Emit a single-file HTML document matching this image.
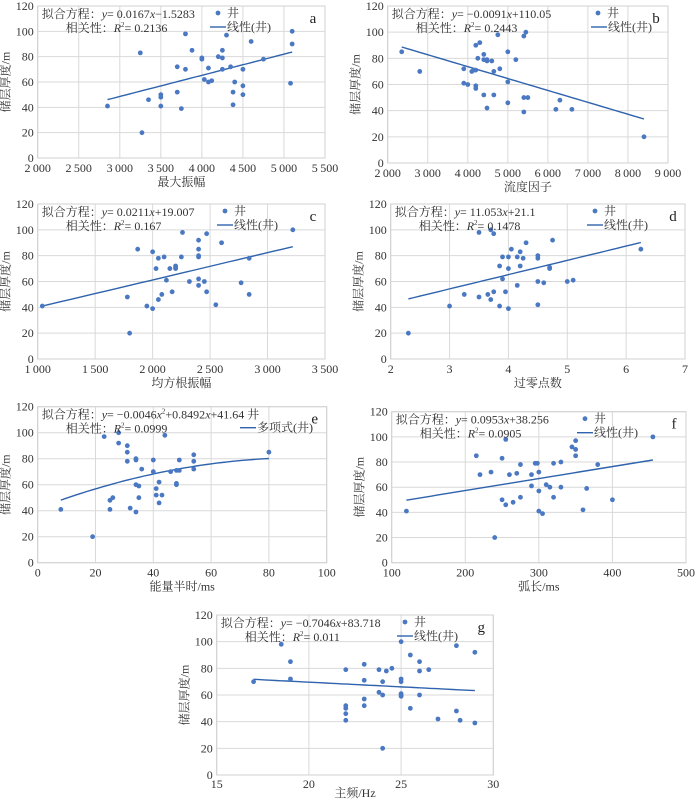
<!DOCTYPE html>
<html><head><meta charset="utf-8">
<style>
body{margin:0;background:#fff;}
svg{display:block;}
text{font-family:"Liberation Serif","Noto Serif CJK SC",serif;}
</style></head>
<body>
<svg id="fig" width="700" height="799" viewBox="0 0 700 799" font-family="Liberation Serif, Noto Serif CJK SC, serif"></svg>
<script>
// Panel a
const aX=[2850,3250,3270,3350,3500,3500,3500,3700,3700,3750,3800,3800,3880,4000,4000,4030,4080,4080,4120,4200,4250,4250,4250,4300,4350,4380,4380,4400,4500,4500,4500,4600,4750,5080,5100,5100];
const aY=[41,83,20,46,50,48,41,72,52,39,98,70,85,79,78,62,60,71,61,80,85,79,70,97,72,52,42,60,70,57,50,92,78,59,100,90];
const aTicks=[2000,2500,3000,3500,4000,4500,5000,5500];
// Panel b
const bX=[2350,2800,3900,3900,4000,4100,4150,4200,4200,4200,4200,4250,4300,4400,4400,4400,4480,4480,4480,4600,4650,4650,4750,4800,5000,5000,5000,5200,5400,5400,5400,5450,5500,6200,6300,6600,8400];
const bY=[85,70,72,61,60,70,71,71,90,59,57,80,92,83,79,52,79,78,42,78,70,52,98,72,85,62,46,79,97,50,39,100,50,41,48,41,20];
const bTicks=[2000,3000,4000,5000,6000,7000,8000,9000];
// Panel c
const cX=[1040,1780,1800,1870,1950,2000,2000,2030,2050,2050,2080,2100,2120,2150,2170,2200,2200,2200,2250,2260,2320,2400,2400,2400,2400,2400,2400,2450,2470,2470,2550,2600,2770,2840,2840,3220];
const cY=[41,48,20,85,41,83,39,70,78,46,50,79,61,70,52,72,71,70,79,98,60,92,85,80,79,62,57,60,97,52,42,90,59,78,50,100];
const cTicks=[1000,1500,2000,2500,3000,3500];
// Panel d
const dX=[2.3,3,3.25,3.5,3.5,3.65,3.7,3.7,3.75,3.75,3.85,3.85,3.9,3.9,3.95,4,4,4,4.05,4.15,4.15,4.2,4.2,4.25,4.3,4.5,4.5,4.5,4.5,4.6,4.7,4.7,4.75,5,5.1,6.25];
const dY=[20,41,50,98,48,50,100,46,97,52,72,41,79,62,52,79,70,39,85,79,57,83,72,78,90,80,78,60,42,59,71,70,92,60,61,85];
const dTicks=[2,3,4,5,6,7];
// Panel e
const eX=[8,19,23,25,25,26,28,28,31,31,31,32,34,34,34,34,35,35,36,40,40,41,41,42,42,43,44,46,48,48,48,49,49,54,54,54,80];
const eY=[41,20,97,48,41,50,100,92,90,85,78,42,80,79,60,39,59,50,72,79,70,57,52,62,46,52,98,70,71,61,60,79,71,83,78,72,85];
const eTicks=[0,20,40,60,80,100];
// Panel f
const fX=[120,215,220,235,240,250,250,255,255,260,265,270,275,275,290,290,295,298,300,300,300,305,310,315,320,320,330,330,345,350,350,350,360,365,380,400,455];
const fY=[41,85,70,72,20,83,50,98,46,70,48,71,78,52,70,61,79,79,72,57,41,39,62,60,79,52,80,60,92,97,90,85,42,59,78,50,100];
const fTicks=[100,200,300,400,500];
// Panel g
const gX=[17,18.5,19,19,22,22,22,22,22,23,23,23,23,23.8,23.8,24,24,24,24.2,24.5,25,25,25,25,25,25,25.5,25.5,26,26,26,26.5,27,28,28,28.2,29,29];
const gY=[70,98,85,72,79,52,50,46,41,83,71,57,52,79,62,70,60,20,78,80,100,72,70,61,60,59,90,50,85,78,60,79,42,97,48,41,92,39];
const gTicks=[15,20,25,30];
const yTicks=[0,20,40,60,80,100,120];

const NS="http://www.w3.org/2000/svg";
const svg=document.getElementById('fig');
const FF='Liberation Serif, Noto Serif CJK SC, serif';
function mk(tag,attrs,parent,text){const e=document.createElementNS(NS,tag);for(const k in attrs)e.setAttribute(k,attrs[k]);if(tag==='text')e.setAttribute('font-family',FF);if(text!==undefined)e.textContent=text;(parent||svg).appendChild(e);return e;}
function fmt(v){if(v>=1000){const s=String(v);return s.slice(0,s.length-3)+'\u2009'+s.slice(-3);}return String(v);}

function panel(p){
  const g=mk('g',{});
  
  
  const xmin=p.xt[0],xmax=p.xt[p.xt.length-1];
  const sx=v=>p.x0+(v-xmin)/(xmax-xmin)*(p.x1-p.x0);
  const sy=v=>p.yb-(v/120)*(p.yb-p.yt);
  const tl=p.tl||14, tt=p.tt||28;
  yTicks.forEach(t=>{
    const l=mk('line',{x1:p.x0,x2:p.x1,y1:sy(t),y2:sy(t),stroke:'#d9d9d9','stroke-width':1},g);
    
    
    const tx=mk('text',{x:p.x0-4,y:sy(t)+4,'text-anchor':'end','font-size':12,fill:'#333'},g,String(t));
    
    
  });
  p.xt.forEach(t=>{
    const l=mk('line',{x1:sx(t),x2:sx(t),y1:p.yt,y2:p.yb,stroke:'#d9d9d9','stroke-width':1},g);
    
    
    const tx=mk('text',{x:sx(t),y:p.yb+tl,'text-anchor':'middle','font-size':12,fill:'#333'},g,fmt(t));
    
    
  });
  const xt=mk('text',{x:(p.x0+p.x1)/2,y:p.yb+tt,'text-anchor':'middle','font-size':12,fill:'#333'},g,p.xl);
  
  
  const ym=(p.yt+p.yb)/2, yx=p.x0-28;
  const yt=mk('text',{x:yx,y:ym,'text-anchor':'middle','font-size':12,fill:'#333',transform:`rotate(-90 ${yx} ${ym})`},g,'储层厚度/m');
  
  
  const xs=p.X, lo=Math.min(...xs), hi=Math.max(...xs);
  let d='';
  for(let i=0;i<=40;i++){const v=lo+(hi-lo)*i/40;d+=(i?'L':'M')+sx(v).toFixed(1)+','+sy(p.f(v)).toFixed(1);}
  const pl=mk('path',{d:d,fill:'none',stroke:'#2f63ad','stroke-width':1.4},g);
  
  
  p.X.forEach((v,i)=>{
    const c=mk('circle',{cx:sx(v),cy:sy(p.Y[i]),r:2.4,fill:'#4a78c2'},g);
    
    
  });
  const eq=mk('text',{x:p.x0+4,y:p.yt+12,'font-size':12,fill:'#333'},g);
  
  
  eq.innerHTML=p.eq;
  const r2=mk('text',{x:p.x0+28,y:p.yt+26,'font-size':12,fill:'#333'},g);
  
  
  r2.innerHTML='相关性：<tspan font-style="italic">R</tspan><tspan font-size="7" dy="-5">2</tspan><tspan dy="5">= '+p.r2+'</tspan>';
  if(p.lx){
    const ld=mk('circle',{cx:p.lx,cy:p.yt+7,r:2.4,fill:'#4a78c2'},g);
    
    
    const lt=mk('text',{x:p.lx+9,y:p.yt+11,'font-size':12,fill:'#333'},g,'井');
    
    
  }
  const lxl=p.llx;
  const ll=mk('line',{x1:lxl,x2:lxl+16,y1:p.yt+21,y2:p.yt+21,stroke:'#2f63ad','stroke-width':1.4},g);
  
  
  const lt2=mk('text',{x:lxl+17,y:p.yt+25,'font-size':12,fill:'#333'},g,p.lname);
  
  
  const lab=mk('text',{x:p.x1-12,y:p.yt+17,'font-size':15,fill:'#222','text-anchor':'middle'},g,p.id);
  
  
  const fr=mk('rect',{x:p.x0,y:p.yt,width:p.x1-p.x0,height:p.yb-p.yt,fill:'none',stroke:'#d0d0d0'},g);
  
  
}
const I=s=>'<tspan font-style="italic">'+s+'</tspan>';
panel({id:'a',X:aX,Y:aY,xt:aTicks,x0:37.7,x1:325,yt:6,yb:158,xl:'最大振幅',f:x=>0.0167*x-1.5283,
  eq:'拟合方程：'+I('y')+'= 0.0167'+I('x')+'−1.5283',r2:'0.2136',lx:218,llx:210,lname:'线性(井)'});
panel({id:'b',X:bX,Y:bY,xt:bTicks,x0:387.7,x1:668,yt:6,yb:163,xl:'流度因子',f:x=>-0.0091*x+110.05,
  eq:'拟合方程：'+I('y')+'= −0.0091'+I('x')+'+110.05',r2:'0.2443',lx:598,llx:591,lname:'线性(井)'});
panel({id:'c',X:cX,Y:cY,xt:cTicks,x0:37.7,x1:325,yt:204,yb:359,xl:'均方根振幅',f:x=>0.0211*x+19.007,
  eq:'拟合方程：'+I('y')+'= 0.0211'+I('x')+'+19.007',r2:'0.167',lx:225,llx:217,lname:'线性(井)'});
panel({id:'d',X:dX,Y:dY,xt:dTicks,x0:390.7,x1:685,yt:204,yb:359,xl:'过零点数',f:x=>11.053*x+21.1,
  eq:'拟合方程：'+I('y')+'= 11.053'+I('x')+'+21.1',r2:'0.1478',lx:595,llx:587,lname:'线性(井)'});
panel({id:'e',X:eX,Y:eY,xt:eTicks,x0:37.7,x1:326.7,yt:406.7,yb:562.7,xl:'能量半时/ms',f:x=>-0.0046*x*x+0.8492*x+41.64,
  eq:'拟合方程：'+I('y')+'= −0.0046'+I('x')+'<tspan font-size="7" dy="-5">2</tspan><tspan dy="5">+0.8492</tspan>'+I('x')+'+41.64 井',r2:'0.0999',lx:0,llx:240,lname:'多项式(井)'});
panel({id:'f',X:fX,Y:fY,xt:fTicks,x0:391.7,x1:686,yt:411.7,yb:562.7,xl:'弧长/ms',f:x=>0.0953*x+38.256,
  eq:'拟合方程：'+I('y')+'= 0.0953'+I('x')+'+38.256',r2:'0.0905',lx:585,llx:577,lname:'线性(井)'});
panel({id:'g',X:gX,Y:gY,xt:gTicks,x0:216.7,x1:493.3,yt:615,yb:775,xl:'主频/Hz',f:x=>-0.7046*x+83.718,tl:13,tt:22,
  eq:'拟合方程：'+I('y')+'= −0.7046'+I('x')+'+83.718',r2:'0.011',lx:405,llx:397,lname:'线性(井)'});
</script>
</body></html>
